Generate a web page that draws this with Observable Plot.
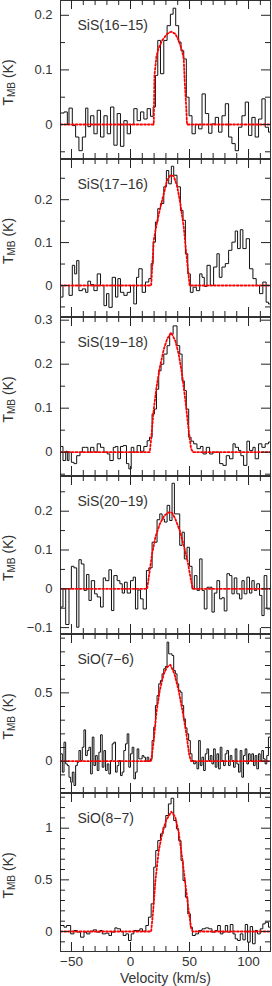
<!DOCTYPE html>
<html><head><meta charset="utf-8">
<script src="https://cdn.jsdelivr.net/npm/d3@7"></script>
<script src="https://cdn.jsdelivr.net/npm/@observablehq/plot@0.6"></script>
<style>
body{margin:0;background:#fff;width:272px;}
#chart svg{display:block;}
</style></head><body><div id="chart"></div>
<script>
// ---- data ----
const titles = ["SiS(16\u221215)", "SiS(17\u221216)", "SiS(19\u221218)", "SiS(20\u221219)", "SiO(7\u22126)", "SiO(8\u22127)"];
const xMajor = [-50, 0, 50, 100];
const xMinor = [-40, -30, -20, -10, 10, 20, 30, 40, 60, 70, 80, 90, 110];
const xLabel = "Velocity (km/s)";

// channel left edges (km/s) and T_MB (K)
const v1 = [-59.2,-56.3,-53.5,-52.1,-49.3,-46.5,-43.7,-40.8,-38.0,-36.1,-33.8,-31.0,-28.2,-25.4,-22.5,-19.7,-16.9,-14.1,-11.3,-8.5,-5.6,-2.8,0.0,2.8,5.6,8.5,11.3,14.1,16.9,19.2,21.1,23.1,25.4,28.2,31.0,33.8,36.1,38.3,40.8,42.8,45.1,47.3,49.6,52.1,54.9,57.7,60.6,63.4,66.2,69.0,71.8,74.6,77.5,80.3,83.1,85.9,88.7,91.5,94.4,97.2,100.0,102.8,105.6,108.5,111.3,114.1,116.9];
const t1 = [0.021,0.023,0.0,0.03,-0.002,-0.023,-0.048,-0.023,0.03,-0.004,0.016,-0.017,0.026,-0.023,0.016,-0.017,0.032,-0.038,0.02,-0.04,0.007,-0.017,0.0,0.029,0.007,0.023,0.01,0.029,0.015,0.032,0.09,0.154,0.093,0.154,0.181,0.202,0.213,0.181,0.151,0.135,0.12,0.05,0.016,-0.017,0.0,-0.008,0.056,0.02,-0.016,0.001,0.013,-0.014,0.016,0.038,-0.023,-0.035,-0.048,-0.005,0.016,0.041,-0.02,0.013,-0.023,0.01,0.047,-0.005,-0.014];

const v2 = [-59.2,-57.2,-54.9,-52.1,-49.3,-47.3,-45.6,-43.7,-40.8,-38.0,-36.1,-33.8,-31.0,-28.2,-25.4,-22.5,-20.3,-18.3,-15.5,-12.7,-10.7,-8.5,-5.6,-2.8,0.0,2.8,5.1,7.0,9.9,12.7,15.5,17.5,19.2,21.1,23.1,25.4,28.2,30.4,32.4,34.6,36.6,39.4,42.3,44.5,46.5,48.5,50.7,53.0,55.8,58.6,60.6,62.5,64.8,67.6,70.4,73.2,75.2,77.5,80.3,83.1,85.9,88.7,90.7,93.0,95.2,98.0,100.8,103.7,106.5,109.3,112.1,114.9,116.9];
const t2 = [-0.027,0,0,-0.023,0.047,0.027,0.058,-0.012,-0.008,-0.016,0.01,0.002,-0.012,0.027,0,-0.047,-0.019,-0.051,0.019,-0.027,0.016,-0.016,-0.023,-0.016,0,-0.043,0.019,0.039,-0.016,0.008,0.016,0.051,0.101,0.148,0.179,0.191,0.23,0.268,0.237,0.278,0.257,0.23,0.175,0.152,0.074,0.027,-0.016,-0.004,-0.012,0.027,0.019,-0.002,0.047,0,0.043,0.074,0.019,0.043,0.051,0.082,0.101,0.127,0.086,0.13,0.086,0.109,0.039,0.016,0,-0.019,0.008,-0.039,-0.043];

const v3 = [-59.2,-57.2,-54.9,-53.5,-52.1,-50.1,-47.9,-45.6,-42.8,-40.8,-38.0,-36.1,-33.8,-31.0,-28.2,-25.4,-22.5,-19.7,-17.5,-14.6,-12.7,-10.7,-8.5,-6.2,-3.4,-1.4,0.6,2.8,5.6,8.5,11.3,14.1,16.1,18.3,20.3,22.0,23.9,25.9,28.2,31.0,33.2,36.1,39.4,41.7,43.7,45.6,47.3,49.3,51.3,53.5,56.3,59.2,61.4,64.2,67.0,69.9,72.7,75.5,78.3,81.1,83.9,86.8,88.7,91.5,93.5,95.8,98.6,100.8,103.7,105.6,108.5,111.3,114.1,116.9];
const t3 = [0.013,-0.019,0.002,-0.019,0.0,-0.023,-0.026,-0.008,0.0,0.011,0.011,0.0,0.011,0.0,0.019,0.011,0.0,-0.004,-0.019,0.011,0.013,-0.015,0.013,0.015,-0.026,-0.038,0.011,0.0,0.015,0.002,0.013,0.026,0.034,0.087,0.098,0.143,0.185,0.2,0.223,0.242,0.268,0.287,0.242,0.223,0.162,0.14,0.098,0.034,0.025,0.019,0.008,0.013,-0.004,0.011,-0.004,0.0,0.0,-0.026,-0.03,-0.008,-0.015,0.019,0.011,0.004,-0.008,-0.03,0.025,0.004,0.011,-0.015,0.019,0.011,0.019,0.023];

const v4 = [-59.2,-57.2,-54.9,-52.1,-50.1,-47.9,-45.6,-43.7,-41.7,-39.4,-37.2,-35.2,-33.2,-30.4,-28.2,-25.4,-23.1,-21.1,-18.3,-16.1,-14.1,-11.3,-9.0,-7.0,-5.1,-2.8,0.0,2.3,4.2,6.2,8.5,10.7,13.5,15.5,18.3,20.3,22.5,24.8,26.8,28.7,31.0,33.2,35.2,37.2,39.4,41.7,43.7,45.6,47.9,49.9,52.1,54.1,56.3,58.6,60.6,62.5,64.8,67.0,69.0,71.0,73.2,75.5,77.5,79.4,81.7,83.9,85.9,87.9,90.1,92.4,94.4,96.3,98.6,100.8,102.8,104.8,107.0,109.3,111.3,113.2,115.5];
const t4 = [-0.047,0.0,-0.092,0.0,0.058,0.054,-0.099,0.075,0.064,-0.004,0.037,-0.03,0.021,-0.013,-0.021,-0.047,0.028,0.021,0.049,-0.056,0.034,0.021,0.013,-0.011,0.017,-0.011,0.021,0.03,-0.052,-0.003,-0.026,-0.052,0.047,0.054,0.12,0.12,0.178,0.193,0.18,0.172,0.215,0.176,0.272,0.193,0.193,0.112,0.146,0.077,0.107,0.058,0.0,0.034,-0.004,0.077,-0.004,-0.052,0.004,0.004,-0.06,-0.011,0.021,-0.026,-0.023,-0.057,0.039,0.034,-0.013,0.028,-0.013,-0.026,0.021,-0.013,0.03,-0.011,0.021,-0.004,0.013,-0.017,-0.069,0.034,-0.052];

// SiO(7-6): regular channels, first left edge and width (km/s)
const v5Start = -59.15, v5Width = 1.408;
const t5 = [0.054,-0.08,0.139,-0.02,-0.032,-0.117,-0.154,-0.08,-0.178,-0.032,
-0.007,0.078,0.005,0.102,0.229,0.041,0.078,0.102,-0.093,0.176,
-0.032,0.041,-0.068,0.066,0.193,-0.044,0.078,-0.068,-0.02,-0.093,
0.005,0.127,0.139,-0.08,-0.032,0.005,-0.105,-0.08,0.078,0.127,
0.2,-0.044,0.054,0.102,-0.129,-0.08,0.09,0.017,0.017,0.041,
0.029,0,0.029,0,0.017,0.151,0.249,0.407,0.48,0.566,
0.59,0.639,0.676,0.693,0.871,0.785,0.785,0.773,0.663,0.639,
0.566,0.517,0.505,0.407,0.31,0.244,0.2,0.151,0.054,0.005,
-0.02,-0.007,-0.056,0.151,-0.032,0.029,-0.068,0.054,0.09,0.005,
0.041,-0.02,0.09,-0.044,0.054,-0.056,0.102,0.005,-0.032,0.054,
0.078,-0.032,0.041,0.005,-0.044,0.09,-0.02,-0.08,0.078,-0.117,
0.041,0.09,-0.02,0.054,0.005,0.054,-0.032,0.041,-0.056,0.054,
0.005,0.078,0.017,-0.02,0.041,0.176];

const v6 = [-59.2,-56.3,-54.1,-50.7,-47.9,-45.1,-42.3,-39.4,-37.2,-34.4,-31.5,-28.7,-25.9,-23.9,-21.1,-18.3,-16.1,-13.2,-11.3,-8.5,-6.2,-3.9,-1.7,0.6,2.8,5.6,7.9,10.1,13.0,15.2,17.5,19.7,21.4,23.1,25.4,27.6,29.9,32.1,34.4,36.6,38.9,40.8,42.8,44.5,46.5,48.5,50.7,52.4,54.9,57.7,60.6,63.4,66.2,69.0,71.8,73.8,76.1,78.3,80.3,82.3,84.5,86.8,88.7,90.7,93.0,95.2,97.2,99.2,101.4,103.4,105.6,107.6,109.9,112.1,114.1,116.9];
const t6 = [0.058,0.042,0.058,-0.023,0.01,-0.006,-0.055,-0.006,-0.023,0.003,0.016,-0.006,0.01,-0.023,-0.016,-0.039,-0.006,0.035,0.026,0.0,-0.039,-0.023,-0.087,-0.023,0.01,0.01,0.026,0.003,0.058,0.139,0.268,0.623,0.784,0.88,0.945,1.01,1.123,1.235,1.29,1.074,0.994,0.88,0.687,0.494,0.332,0.171,0.042,-0.039,-0.023,0.01,0.026,0.035,0.026,-0.006,0.01,0.058,-0.023,-0.006,0.058,-0.006,0.068,-0.023,-0.071,-0.087,-0.023,-0.081,0.068,-0.103,0.048,-0.119,0.01,-0.023,0.026,0.074,0.09,0.042];

// fitted profiles (red dotted)
const fv1 = [-59.3,19.7,20.3,22,23.9,26.8,31,34.4,38,40.8,43.7,45.1,45.9,47,47.9,118.6];
const ft1 = [0,0,0.09,0.125,0.14,0.154,0.166,0.17,0.166,0.154,0.135,0.12,0.08,0.04,0,0];
const fv2 = [-59.3,17.5,19.7,22.5,25.4,28.2,31,33.8,36.6,39.4,42.3,45.1,47.9,50.1,118.6];
const ft2 = [0,0,0.105,0.148,0.183,0.214,0.245,0.257,0.255,0.233,0.19,0.136,0.058,0,0];
const fv3 = [-59.3,16.3,17.5,19.7,22,24.8,28.2,31,34.4,38,40.8,43.7,46.5,49.3,51.3,53,118.6];
const ft3 = [0,0,0.03,0.098,0.147,0.192,0.234,0.257,0.272,0.253,0.223,0.177,0.117,0.049,0.008,0,0];
const fv4 = [-59.3,14.1,16.3,18.3,21.1,24.8,28.7,32.4,35.2,38,41.7,45.1,48.5,51.3,53,118.6];
const ft4 = [0,0,0.047,0.09,0.133,0.167,0.189,0.197,0.196,0.18,0.15,0.112,0.069,0.021,0,0];
const fv5 = [-59.3,17.5,19.7,22,24.8,28.2,31,33.8,37.2,40.8,44.5,47.3,49.6,51.3,118.6];
const ft5 = [0,0,0.151,0.359,0.517,0.639,0.688,0.705,0.639,0.517,0.346,0.2,0.054,0,0];
const fv6 = [-59.3,17.5,19.2,21.1,23.9,26.8,30.1,34.6,38,40.8,43.7,46.5,49.3,51.5,53,118.6];
const ft6 = [0,0,0.2,0.49,0.78,0.945,1.074,1.16,1.106,0.96,0.72,0.46,0.2,0.026,0,0];

// y tick values per panel
const yMajor = [[0,0.1,0.2],[0,0.1,0.2],[0,0.1,0.2,0.3],[-0.1,0,0.1,0.2],[0,0.5],[0,0.5,1]];
const yMinor = [[-0.05,0.05,0.15],[-0.05,0.05,0.15,0.25],[-0.05,0.05,0.15,0.25],[-0.05,0.05,0.15,0.25],
  [-0.2,-0.1,0.1,0.2,0.3,0.4,0.6,0.7,0.8,0.9],[-0.1,0.1,0.2,0.3,0.4,0.6,0.7,0.8,0.9,1.1,1.2,1.3]];

// ---- layout ----
const W = 272, ML = 60, MR = 2;
const xDomain = [-59.3, 118.6];
const yDomains = [[-0.0623,0.2271],[-0.0723,0.2937],[-0.053,0.3061],[-0.1152,0.2894],[-0.229,0.9268],[-0.1936,1.336]];
const heights = [159,158,159,158,159,193];

const t5v = t5.map((_, i) => v5Start + v5Width * i);
const specs = [[v1,t1],[v2,t2],[v3,t3],[v4,t4],[t5v,t5],[v6,t6]];
const fits = [[fv1,ft1],[fv2,ft2],[fv3,ft3],[fv4,ft4],[fv5,ft5],[fv6,ft6]];
const fmt = d => (d < 0 ? "\u2212" : "") + String(Math.abs(d));
const font = "'Liberation Sans', Arial, Helvetica, sans-serif";
const ink = "#222";

const root = document.getElementById("chart");
specs.forEach(([vs, ts], i) => {
  const last = i === specs.length - 1;
  const mt = 0, mb = last ? 35 : 1;
  const h = heights[i];
  const fh = h - mt - mb, fw = W - ML - MR;
  const spec = vs.map((v, k) => ({v, t: ts[k]}));
  spec.push({v: xDomain[1] + 2, t: ts[ts.length - 1]});
  const fit = fits[i][0].map((v, k) => ({v, t: fits[i][1][k]}));
  const marks = [
    Plot.line(spec, {x: "v", y: "t", curve: "step-after", stroke: "#111", strokeWidth: 1, clip: true}),
    Plot.line(fit, {x: "v", y: "t", stroke: "#ff0000", strokeWidth: 1.8, strokeDasharray: "1.8,2", clip: true}),
    Plot.frame({stroke: "#333"}),
    Plot.tickY(yMajor[i], {stroke: ink, insetRight: fw - 9}),
    Plot.tickY(yMajor[i], {stroke: ink, insetLeft: fw - 9}),
    Plot.tickY(yMinor[i], {stroke: ink, insetRight: fw - 5}),
    Plot.tickY(yMinor[i], {stroke: ink, insetLeft: fw - 5}),
    Plot.tickX(xMajor, {stroke: ink, insetBottom: fh - 9}),
    Plot.tickX(xMajor, {stroke: ink, insetTop: fh - 9}),
    Plot.tickX(xMinor, {stroke: ink, insetBottom: fh - 5}),
    Plot.tickX(xMinor, {stroke: ink, insetTop: fh - 5}),
    Plot.axisY(yMajor[i], {anchor: "left", tickSize: 0, tickPadding: 8, tickFormat: fmt, label: null, fontSize: 13, fill: "#333"}),
    Plot.text([titles[i]], {text: d => d, frameAnchor: "top-left", dx: 17, dy: 20, lineAnchor: "top", textAnchor: "start", fontSize: 14, fill: "#333"})
  ];
  if (last) {
    marks.push(Plot.axisX(xMajor, {anchor: "bottom", tickSize: 0, tickPadding: 5, tickFormat: fmt, label: null, fontSize: 13.5, fill: "#333"}));
    marks.push(Plot.text([xLabel], {text: d => d, frameAnchor: "bottom", dy: 22, lineAnchor: "top", fontSize: 14, fill: "#333"}));
  }
  const svg = Plot.plot({
    width: W, height: h,
    marginLeft: ML, marginRight: MR, marginTop: mt, marginBottom: mb,
    x: {domain: xDomain, axis: null},
    y: {domain: yDomains[i], axis: null},
    style: {fontFamily: font, background: "white", overflow: "visible"},
    marks
  });
  const lab = d3.select(svg).append("text")
    .attr("transform", `translate(12.5,${mt + fh / 2 + 3.5}) rotate(-90)`)
    .attr("text-anchor", "middle").attr("font-size", 14).attr("fill", "#333")
    .attr("font-family", font);
  lab.append("tspan").text("T");
  lab.append("tspan").attr("font-size", 10).attr("dy", 2.5).text("MB");
  lab.append("tspan").attr("dy", -2.5).attr("dx", 4).text("(K)");
  root.appendChild(svg);
});
</script>
</body></html>
